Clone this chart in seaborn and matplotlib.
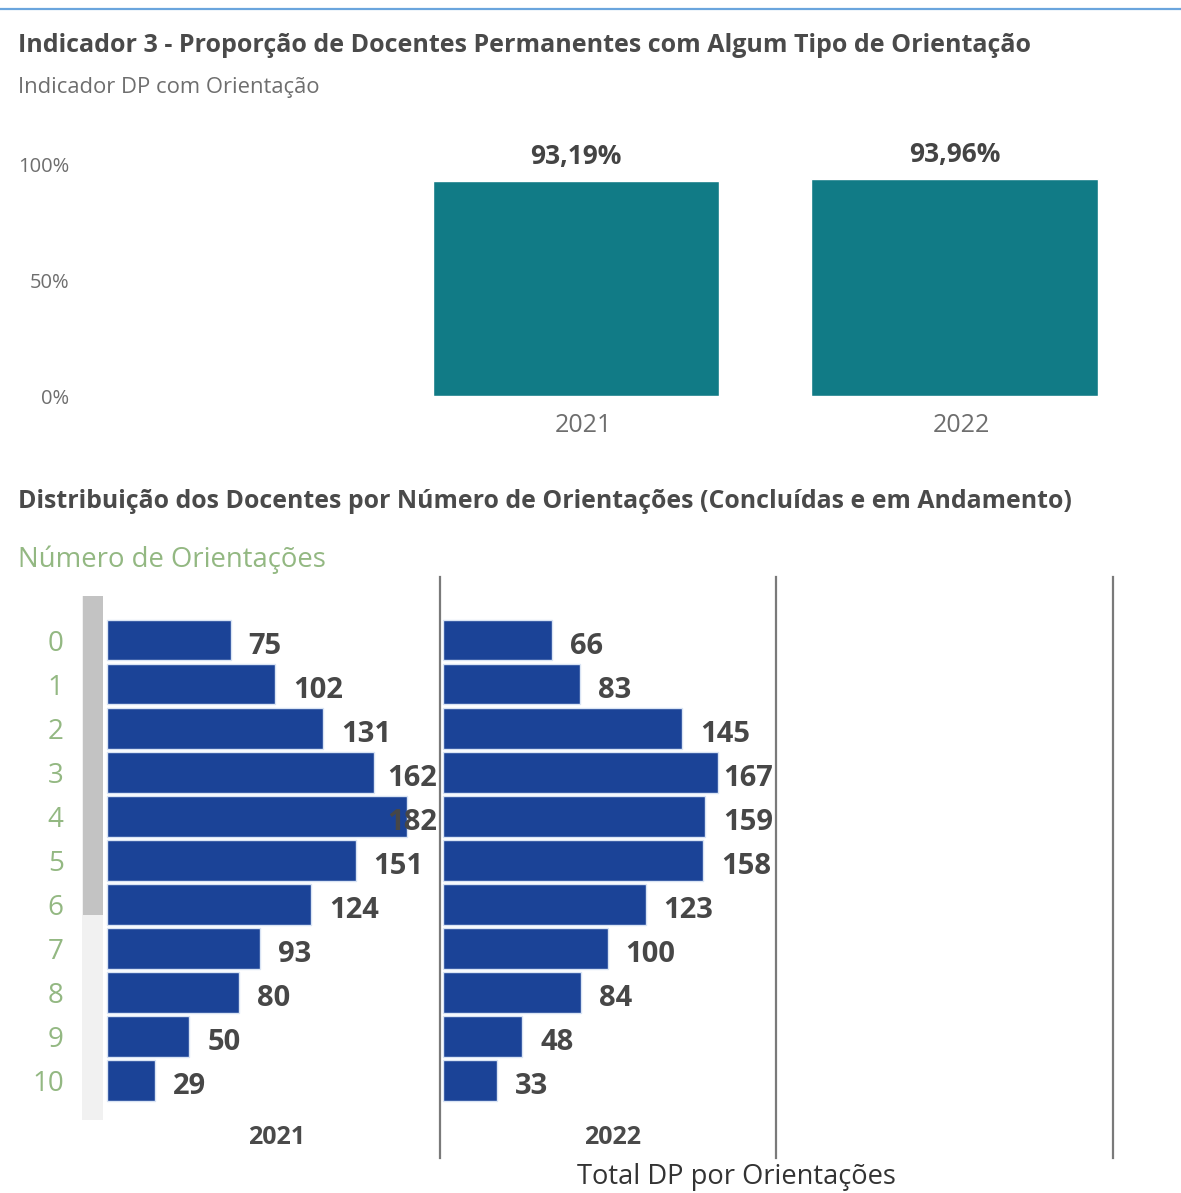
import matplotlib
matplotlib.use("Agg")
import matplotlib.pyplot as plt
from matplotlib.patches import Rectangle
from matplotlib.lines import Line2D
from matplotlib.transforms import ScaledTranslation
import seaborn as sns
import pandas as pd

# ---------------- data ----------------
anos_top = ["2021", "2022"]
pct_dp_orientacao = [93.19, 93.96]

num_orientacoes = ["0", "1", "2", "3", "4", "5", "6", "7", "8", "9", "10"]
total_2021 = [75, 102, 131, 162, 182, 151, 124, 93, 80, 50, 29]
total_2022 = [66, 83, 145, 167, 159, 158, 123, 100, 84, 48, 33]
anos_painel = ["2021", "2022"]

titulo1 = "Indicador 3 - Proporção de Docentes Permanentes com Algum Tipo de Orientação"
subtitulo1 = "Indicador DP com Orientação"
titulo2 = "Distribuição dos Docentes por Número de Orientações (Concluídas e em Andamento)"
eixo_y2 = "Número de Orientações"
eixo_x2 = "Total DP por Orientações"

# ---------------- style ----------------
sns.set_theme(style="white")
plt.rcParams["font.family"] = ["Open Sans", "DejaVu Sans"]

TEAL = "#117B86"
BLUE = "#1B4397"
TITLE_C = "#4A4A4A"
GRAY_T = "#6E6E6E"
GREEN_T = "#93B882"

W, H = 1181, 1193
fig = plt.figure(figsize=(W / 100, H / 100), dpi=100)
fig.patch.set_facecolor("white")

def fig_rect(x0, y0, x1, y1):
    return [x0 / W, 1 - y1 / H, (x1 - x0) / W, (y1 - y0) / H]

# top blue line
fig.add_artist(Line2D([0, 1], [1 - 9 / H, 1 - 9 / H], color="#6AA5DD", lw=1.6))

# titles
fig.text(18 / W, 1 - 45 / H, titulo1, fontsize=18, fontweight="bold", color=TITLE_C, va="center")
fig.text(18 / W, 1 - 87 / H, subtitulo1, fontsize=15.8, color=GRAY_T, va="center")

# ---------------- top chart ----------------
ax_top = fig.add_axes(fig_rect(75, 140, 1105, 396))
df_top = pd.DataFrame({"Ano": anos_top, "Pct": pct_dp_orientacao})
sns.barplot(data=df_top, x="Ano", y="Pct", color=TEAL, saturation=1, width=0.757, ax=ax_top)
ax_top.set_xlim(-1.322, 1.396)
ax_top.set_ylim(0, 110.8)
ax_top.set_yticks([0, 50, 100])
ax_top.set_yticklabels(["0%", "50%", "100%"], fontsize=14.5, color=GRAY_T)
ax_top.tick_params(axis="y", length=0, pad=4)
ax_top.tick_params(axis="x", length=0, pad=12, labelsize=18, labelcolor=GRAY_T)
shift = ScaledTranslation(7 / 100, 0, fig.dpi_scale_trans)
for lab in ax_top.get_xticklabels():
    lab.set_transform(lab.get_transform() + shift)
ax_top.set_xlabel("")
ax_top.set_ylabel("")
for s in ax_top.spines.values():
    s.set_visible(False)
ax_top.set_facecolor("none")
for cont in ax_top.containers:
    ax_top.bar_label(cont, labels=[f"{v:.2f}%".replace(".", ",") for v in cont.datavalues],
                     padding=8, fontsize=19, fontweight="bold", color="#444444")

# ---------------- bottom chart ----------------
fig.text(18 / W, 1 - 501 / H, titulo2, fontsize=17.9, fontweight="bold", color=TITLE_C, va="center")
fig.text(18 / W, 1 - 560 / H, eixo_y2, fontsize=19.8, color=GREEN_T, va="center")

# scrollbar (visual)
fig.add_artist(Rectangle((82 / W, 1 - 1120 / H), 21 / W, (1120 - 596) / H,
                         transform=fig.transFigure, facecolor="#F1F1F1", edgecolor="none"))
fig.add_artist(Rectangle((83 / W, 1 - 915 / H), 20 / W, (915 - 596) / H,
                         transform=fig.transFigure, facecolor="#C3C3C3", edgecolor="none"))

df_bot = pd.DataFrame({
    "Num": num_orientacoes * 2,
    "Ano": [anos_painel[0]] * len(num_orientacoes) + [anos_painel[1]] * len(num_orientacoes),
    "Total": total_2021 + total_2022,
})

panel_edges = [104, 440, 776, 1113, 1190]
scale = 1.647  # px per unit
xlim = (-3 / scale, (336 - 3) / scale)
ylim = (11.77, -1.432)

axes = []
for i in range(4):
    x0, x1 = panel_edges[i], panel_edges[i + 1]
    ax = fig.add_axes(fig_rect(x0, 577, x1, 1158))
    ax.set_facecolor("none")
    axes.append(ax)
    for s in ax.spines.values():
        s.set_visible(False)
    if i > 0:
        ax.spines["left"].set_visible(True)
        ax.spines["left"].set_color("#7A7A7A")
        ax.spines["left"].set_linewidth(1.6)
    if i < len(anos_painel):
        ano = anos_painel[i]
        sub = df_bot[df_bot["Ano"] == ano]
        sns.barplot(data=sub, y="Num", x="Total", orient="h", order=num_orientacoes,
                    color=BLUE, saturation=1, width=0.93, edgecolor="#D9E4F4",
                    linewidth=1.0, ax=ax)
        ax.set_xlim(*xlim)
        ax.set_ylim(*ylim)
        ax.text(0.515, 0.036, ano, transform=ax.transAxes, ha="center", va="center",
                fontsize=18, fontweight="bold", color="#4A4A4A")
        texts = []
        for cont in ax.containers:
            for rect, v in zip(cont.patches, cont.datavalues):
                yc = rect.get_y() + rect.get_height() / 2 + 0.15
                t = ax.text(v + 18 / scale, yc, f"{int(v)}", ha="left", va="center",
                            fontsize=21, fontweight="bold", color="#474747")
                texts.append(t)
        ax._vlabels = texts
    else:
        ax.set_xlim(*xlim)
        ax.set_ylim(*ylim)
    ax.set_xlabel("")
    ax.set_ylabel("")
    ax.set_xticks([])
    if i == 0:
        ax.tick_params(axis="y", length=0, pad=29, labelsize=20, labelcolor=GREEN_T)
    else:
        ax.set_yticks([])

# keep value labels inside their panel
fig.canvas.draw()
for ax in axes[:2]:
    ab = ax.get_window_extent()
    for t in ax._vlabels:
        bb = t.get_window_extent()
        limit = ab.x1 - 3
        if bb.x1 > limit:
            dx_px = bb.x1 - limit
            x, y = t.get_position()
            t.set_position((x - dx_px / scale, y))

fig.text(736 / W, 1 - 1191 / H, eixo_x2, fontsize=19.6, color="#333333", ha="center", va="bottom")

fig.savefig("out.png", dpi=100, facecolor="white")
